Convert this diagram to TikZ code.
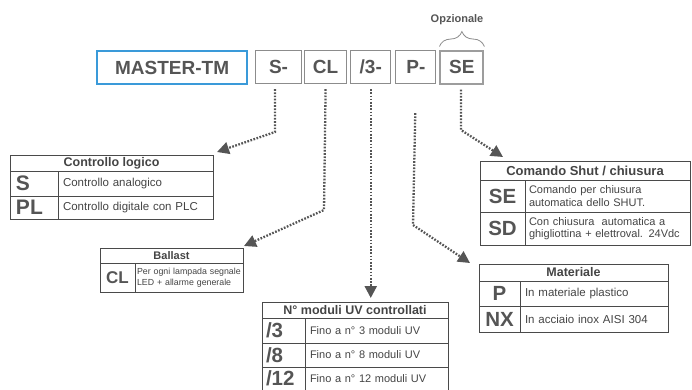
\documentclass[tikz,border=0pt]{standalone}
\usepackage{fontspec}
\setmainfont{Liberation Sans}
\usetikzlibrary{arrows.meta,positioning,decorations.pathreplacing}

\definecolor{tline}{HTML}{4A4A4A}
\definecolor{txt}{HTML}{444444}
\definecolor{codegray}{HTML}{555555}
\definecolor{boxgray}{HTML}{8C8C8C}
\definecolor{masterblue}{HTML}{3A9AD9}
\definecolor{dotgray}{HTML}{555555}

\tikzset{
  cell/.style={draw=tline,line width=1pt,anchor=north west,inner sep=0pt,outer sep=0pt,text=txt},
  hd/.style={cell,font=\bfseries\fontsize{12.5}{12.5}\selectfont},
  cd/.style={cell,font=\bfseries\fontsize{20.5}{20.5}\selectfont,text=codegray},
  ds/.style={cell,font=\fontsize{11.5}{12.5}\selectfont,align=left,inner xsep=5pt},
  codebox/.style={draw=boxgray,line width=1.1pt,minimum height=33pt,inner sep=0pt,
    font=\bfseries\fontsize{19}{19}\selectfont,text=codegray},
  conn/.style={draw=dotgray,line width=2.3pt,dash pattern=on 1.7pt off 1.5pt,
    -{Triangle[length=12pt,width=12pt]},shorten <=5pt}
}

\begin{document}
\begin{tikzpicture}[x=1pt,y=-1pt]
  \clip (0,0) rectangle (692,389);
  % codice
  \node[codebox,draw=masterblue,line width=2.2pt,minimum width=150pt,anchor=north west] (master) at (96,50) {MASTER-TM};
  \node[codebox,minimum width=46pt,anchor=north west] (s) at (255,50) {S-};
  \node[codebox,minimum width=42pt,right=2pt of s] (cl) {CL};
  \node[codebox,minimum width=40pt,right=3pt of cl] (tre) {/3-};
  \node[codebox,minimum width=40pt,right=4pt of tre] (p) {P-};
  \node[codebox,draw=boxgray!85,line width=2pt,minimum width=43pt,right=3pt of p] (se) {SE};
  \node[font=\bfseries\fontsize{11}{11}\selectfont,text=codegray] (opz) at (457,20) {Opzionale};
  \draw[decorate,decoration={brace,amplitude=15pt},draw=boxgray,line width=0.8pt]
    ([shift={(0,-3)}]se.north west) -- ([shift={(0,-3)}]se.north east);

  % Controllo logico
  \node[hd,minimum width=203pt,minimum height=16pt] (ctrl) at (10,155) {Controllo logico};
  \node[cd,minimum height=25pt,text width=36pt,inner xsep=6pt,align=left,font=\bfseries\fontsize{21}{21}\selectfont] (ctrlS) at (ctrl.south west) {S};
  \node[ds,minimum height=25pt,text width=145pt] (ctrlSd) at (ctrlS.north east) {Controllo analogico};
  \node[cd,minimum height=23pt,text width=36pt,inner xsep=6pt,align=left,font=\bfseries\fontsize{21}{21}\selectfont] (ctrlPL) at (ctrlS.south west) {PL};
  \node[ds,minimum height=23pt,text width=145pt] (ctrlPLd) at (ctrlPL.north east) {Controllo digitale con PLC};

  % Ballast
  \node[hd,minimum width=143pt,minimum height=15pt,font=\bfseries\fontsize{11}{11}\selectfont] (ball) at (100,248) {Ballast};
  \node[cd,minimum width=35pt,minimum height=29pt,font=\bfseries\fontsize{17}{17}\selectfont] (ballCL) at (ball.south west) {CL};
  \node[ds,minimum height=29pt,text width=104pt,inner xsep=2pt,font=\fontsize{8.8}{10.5}\selectfont] (ballCLd) at (ballCL.north east) {Per ogni lampada segnale\\LED + allarme generale};

  % N moduli
  \node[hd,minimum width=186pt,minimum height=16pt] (mod) at (262,302) {N° moduli UV controllati};
  \node[cd,minimum height=25pt,text width=35pt,inner xsep=4pt,align=left] (mod3) at (mod.south west) {/3};
  \node[ds,minimum height=25pt,text width=133pt,font=\fontsize{11}{12}\selectfont] (mod3d) at (mod3.north east) {Fino a n° 3 moduli UV};
  \node[cd,minimum height=24pt,text width=35pt,inner xsep=4pt,align=left] (mod8) at (mod3.south west) {/8};
  \node[ds,minimum height=24pt,text width=133pt,font=\fontsize{11}{12}\selectfont] (mod8d) at (mod8.north east) {Fino a n° 8 moduli UV};
  \node[cd,minimum height=23pt,text width=35pt,inner xsep=4pt,align=left] (mod12) at (mod8.south west) {/12};
  \node[ds,minimum height=23pt,text width=133pt,font=\fontsize{11}{12}\selectfont] (mod12d) at (mod12.north east) {Fino a n° 12 moduli UV};

  % Comando Shut
  \node[hd,minimum width=210pt,minimum height=19pt,font=\bfseries\fontsize{13}{13}\selectfont] (com) at (480,161) {Comando Shut / chiusura};
  \node[cd,minimum width=45pt,minimum height=32pt] (comSE) at (com.south west) {SE};
  \node[ds,minimum height=32pt,text width=157pt,inner xsep=4pt,font=\fontsize{11}{12.5}\selectfont] (comSEd) at (comSE.north east) {Comando per chiusura\\automatica dello SHUT.};
  \node[cd,minimum width=45pt,minimum height=33pt] (comSD) at (comSE.south west) {SD};
  \node[ds,minimum height=33pt,text width=157pt,inner xsep=4pt,font=\fontsize{11}{12.5}\selectfont] (comSDd) at (comSD.north east) {Con chiusura~ automatica a\\ghigliottina + elettroval. 24Vdc};

  % Materiale
  \node[hd,minimum width=189pt,minimum height=17pt] (mat) at (479,264) {Materiale};
  \node[cd,minimum width=41pt,minimum height=25pt] (matP) at (mat.south west) {P};
  \node[ds,minimum height=25pt,text width=138pt] (matPd) at (matP.north east) {In materiale plastico};
  \node[cd,minimum width=41pt,minimum height=26pt] (matNX) at (matP.south west) {NX};
  \node[ds,minimum height=26pt,text width=138pt] (matNXd) at (matNX.north east) {In acciaio inox AISI 304};

  % collegamenti
  \coordinate (sb) at (275,132);
  \coordinate (clb) at (324,210);
  \coordinate (pb) at (413,225);
  \coordinate (seb) at (461,130);
  \draw[conn] (s.south -| sb) -- (sb) -- ([shift={(4,-3)}]ctrl.north east);
  \draw[conn] (cl.south) -- (clb) -- ([shift={(1,-2)}]ball.north east);
  \draw[conn,shorten >=4pt] (tre.south) -- (tre.south |- mod.north);
  \draw[conn,shorten <=29pt] (p.south) -- (pb) -- ([shift={(-9,-1)}]mat.north west);
  \draw[conn] (se.south -| seb) -- (seb) -- ([shift={(23,-4)}]com.north west);
\end{tikzpicture}
\end{document}
